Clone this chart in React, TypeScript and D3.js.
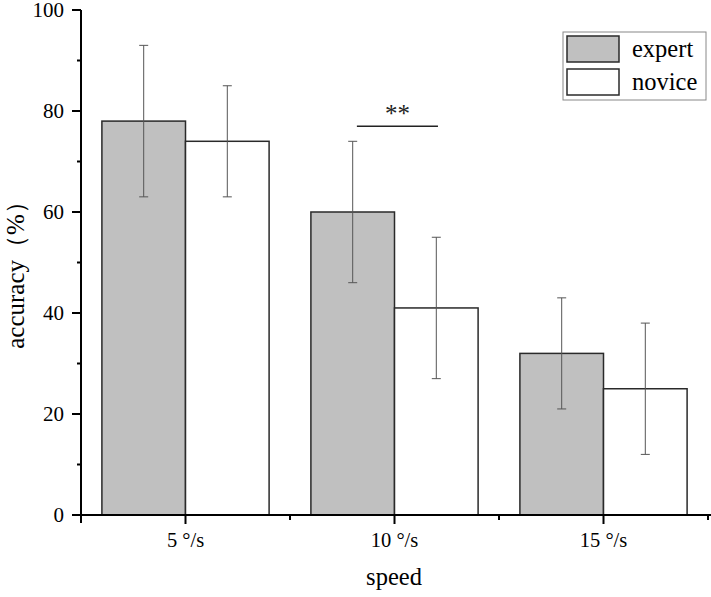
import React from "react";
import * as d3 from "d3";

const categories = ["5 °/s", "10 °/s", "15 °/s"];
const seriesNames = ["expert", "novice"];
const expertValues = [78, 60, 32];
const expertErr = [15, 14, 11];
const noviceValues = [74, 41, 25];
const noviceErr = [11, 14, 13];
const yTicks = [0, 20, 40, 60, 80, 100];
const yMinorTicks = [10, 30, 50, 70, 90];
const seriesFill = ["#c0c0c0", "#ffffff"];

const W = 711;
const H = 597;
const left = 81;
const right = 708;
const top = 10;
const bottom = 515;
const FONT = `"Liberation Serif", "Times New Roman", "Tinos", serif`;

export default function App() {
  const x = d3.scaleBand<string>().domain(categories).range([left, right]).paddingInner(0).paddingOuter(0);
  const y = d3.scaleLinear().domain([0, 100]).range([bottom, top]);
  const bw = x.bandwidth();
  const barW = bw * 0.4;
  const series = [
    { name: seriesNames[0], values: expertValues, err: expertErr, fill: seriesFill[0] },
    { name: seriesNames[1], values: noviceValues, err: noviceErr, fill: seriesFill[1] },
  ];
  const boundaries = categories.map((_, i) => left + bw * (i + 1)).slice(0, 2).concat([right]);
  const starX0 = (x(categories[1]) as number) + bw / 2 - barW * 0.45;
  const starX1 = (x(categories[1]) as number) + bw / 2 + barW * 0.52;
  const starY = y(77);

  return (
    <svg width={W} height={H} style={{ position: "absolute", left: 0, top: 0, background: "#fff", fontFamily: FONT }}>
      {categories.map((c, i) => {
        const cx = (x(c) as number) + bw / 2;
        return series.map((s, j) => {
          const bx = j === 0 ? cx - barW : cx;
          return (
            <rect key={c + s.name} x={bx} y={y(s.values[i])} width={barW} height={y(0) - y(s.values[i])}
              fill={s.fill} stroke="#2a2a2a" strokeWidth={1.5} />
          );
        });
      })}
      {categories.map((c, i) => {
        const cx = (x(c) as number) + bw / 2;
        return series.map((s, j) => {
          const ex = j === 0 ? cx - barW / 2 : cx + barW / 2;
          const hi = y(s.values[i] + s.err[i]);
          const lo = y(s.values[i] - s.err[i]);
          return (
            <g key={"e" + c + s.name} stroke="#555" strokeWidth={1}>
              <line x1={ex} x2={ex} y1={hi} y2={lo} />
              <line x1={ex - 4.5} x2={ex + 4.5} y1={hi} y2={hi} />
              <line x1={ex - 4.5} x2={ex + 4.5} y1={lo} y2={lo} />
            </g>
          );
        });
      })}
      <line x1={starX0} x2={starX1} y1={starY} y2={starY} stroke="#222" strokeWidth={1.5} />
      <text x={(starX0 + starX1) / 2} y={starY - 4} textAnchor="middle" fontSize={25} fill="#222">**</text>

      <line x1={left} x2={left} y1={top} y2={bottom + 8} stroke="#000" strokeWidth={2} />
      {yTicks.map((t) => (
        <g key={"yt" + t}>
          <line x1={left - 9} x2={left} y1={y(t)} y2={y(t)} stroke="#000" strokeWidth={2} />
          <text x={left - 17} y={y(t)} dy="0.33em" textAnchor="end" fontSize={21}>{t}</text>
        </g>
      ))}
      {yMinorTicks.map((t) => (
        <line key={"ym" + t} x1={left - 4} x2={left} y1={y(t)} y2={y(t)} stroke="#000" strokeWidth={2} />
      ))}
      <line x1={left - 9} x2={W} y1={bottom} y2={bottom} stroke="#000" strokeWidth={2} />
      {categories.map((c) => {
        const cx = (x(c) as number) + bw / 2;
        return (
          <g key={"xt" + c}>
            <line x1={cx} x2={cx} y1={bottom} y2={bottom + 9} stroke="#000" strokeWidth={2} />
            <text x={cx} y={547} textAnchor="middle" fontSize={20.5}>{c}</text>
          </g>
        );
      })}
      {boundaries.map((b, i) => (
        <line key={"xb" + i} x1={b} x2={b} y1={bottom} y2={bottom + 5} stroke="#000" strokeWidth={2} />
      ))}
      <text x={394} y={585} textAnchor="middle" fontSize={24.5}>speed</text>
      <text transform={`translate(24, 269) rotate(-90)`} textAnchor="middle" fontSize={25}>accuracy（%）</text>

      <rect x={563} y={32} width={143} height={68} fill="#fff" stroke="#888" strokeWidth={1} />
      {series.map((s, j) => (
        <g key={"lg" + s.name}>
          <rect x={567} y={36 + j * 33} width={52} height={26} fill={s.fill} stroke="#2a2a2a" strokeWidth={1.5} />
          <text x={632} y={57 + j * 33} fontSize={24.5}>{s.name}</text>
        </g>
      ))}
    </svg>
  );
}
